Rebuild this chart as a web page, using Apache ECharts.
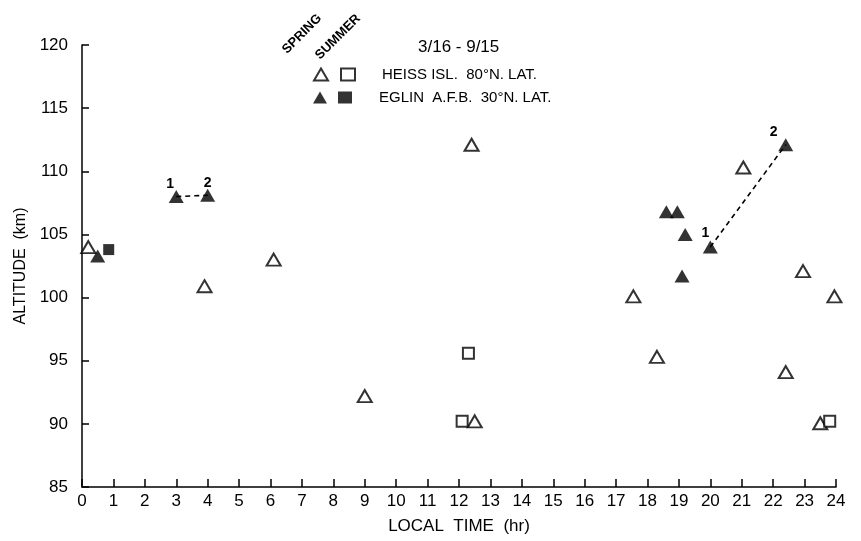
<!DOCTYPE html>
<html><head><meta charset="utf-8">
<script src="https://cdn.jsdelivr.net/npm/echarts@6/dist/echarts.min.js"></script>
<style>html,body{margin:0;padding:0;background:#fff}#c{width:861px;height:541px}</style>
</head><body><div id="c"></div>
<script>
// ---- data ----
const xMin = 0, xMax = 24, xStep = 1;
const yMin = 85, yMax = 120, yStep = 5;
const heissSpring = [[0.2,104.0],[3.9,100.9],[6.1,103.0],[9.0,92.2],[12.4,112.1],[12.5,90.2],[17.55,100.1],[18.3,95.3],[21.05,110.3],[22.4,94.1],[22.95,102.1],[23.5,90.05],[23.95,100.1]];
const heissSummer = [[12.1,90.2],[12.3,95.6],[23.8,90.2]];
const eglinSpring = [[0.5,103.3],[3.0,108.0],[4.0,108.1],[18.6,106.8],[18.95,106.8],[19.2,105.0],[19.1,101.7],[20.0,104.0],[22.4,112.1]];
const eglinSummer = [[0.85,103.8]];
const pairA = [[3.0,108.0],[4.0,108.1]];
const pairB = [[20.0,104.0],[22.4,112.1]];
const pairLabels = ['1','2'];
const legendNames = ['Heiss spring','Heiss summer','Eglin spring','Eglin summer'];
const legendTexts = {'Heiss summer':'HEISS ISL.  80°N. LAT.','Eglin summer':'EGLIN  A.F.B.  30°N. LAT.'};

const FONT = 'Liberation Sans';
const chart = echarts.init(document.getElementById('c'));
function pairSeries(pts, offs){
  return {type:'line', data: pts.map((p,i)=>({value:p, label:{show:true, formatter: pairLabels[i], offset: offs[i]}})),
    symbol:'circle', symbolSize:1, itemStyle:{color:'#000'}, z:1, silent:true,
    lineStyle:{color:'#000', width:1.6, type:[5,4]},
    label:{position:'top', color:'#000', fontSize:14, fontWeight:'bold', fontFamily:FONT}};
}
const openStyle = {color:'#fff', borderColor:'#000', borderWidth:2};
const fillStyle = {color:'#000', borderColor:'#000', borderWidth:0};
const legBase = {orient:'horizontal', itemWidth:14, itemHeight:12, itemGap:11, selectedMode:false,
  textStyle:{color:'#000', fontSize:15, fontFamily:FONT, rich:{t:{padding:[0,0,0,22], fontSize:15, fontFamily:FONT, color:'#000'}}},
  formatter: n => legendTexts[n] ? '{t|'+legendTexts[n]+'}' : ''};
chart.setOption({
  animation:false,
  backgroundColor:'#fff',
  title:{text:'3/16 - 9/15', left:413, top:34, textStyle:{fontSize:17, fontWeight:'normal', color:'#000', fontFamily:FONT}},
  legend:[
    Object.assign({}, legBase, {data:legendNames.slice(0,2), left:308, top:62}),
    Object.assign({}, legBase, {data:legendNames.slice(2,4), left:308, top:85})
  ],
  graphic:[
    {type:'text', x:302, y:34, rotation:Math.PI/4, style:{text:'SPRING', fontSize:13, fontWeight:'bold', fontFamily:FONT, fill:'#000', textAlign:'center', textVerticalAlign:'middle'}},
    {type:'text', x:338, y:37, rotation:Math.PI/4, style:{text:'SUMMER', fontSize:13, fontWeight:'bold', fontFamily:FONT, fill:'#000', textAlign:'center', textVerticalAlign:'middle'}}
  ],
  grid:{left:82, right:25, top:45, bottom:54, containLabel:false},
  xAxis:{type:'value', min:xMin, max:xMax, interval:xStep,
    name:'LOCAL  TIME  (hr)', nameLocation:'middle', nameGap:31,
    nameTextStyle:{fontSize:17, color:'#000', fontFamily:FONT},
    axisLine:{lineStyle:{color:'#000', width:1.5}},
    axisTick:{inside:true, length:8, lineStyle:{color:'#000', width:1.5}},
    axisLabel:{color:'#000', fontSize:17, fontFamily:FONT, margin:6},
    splitLine:{show:false}},
  yAxis:{type:'value', min:yMin, max:yMax, interval:yStep,
    name:'ALTITUDE  (km)', nameLocation:'middle', nameGap:53, nameRotate:90,
    nameTextStyle:{fontSize:16, color:'#000', fontFamily:FONT},
    axisLine:{lineStyle:{color:'#000', width:1.5}},
    axisTick:{inside:true, length:7, lineStyle:{color:'#000', width:1.5}},
    axisLabel:{color:'#000', fontSize:17, fontFamily:FONT, margin:14},
    splitLine:{show:false}},
  series:[
    pairSeries(pairA, [[-6,0],[0,0]]),
    pairSeries(pairB, [[-5,-1],[-12,0]]),
    {name:'Heiss spring', type:'scatter', data:heissSpring, symbol:'triangle', symbolSize:[14,12], itemStyle:openStyle, z:3},
    {name:'Heiss summer', type:'scatter', data:heissSummer, symbol:'rect', symbolSize:11, itemStyle:openStyle, z:3},
    {name:'Eglin spring', type:'scatter', data:eglinSpring, symbol:'triangle', symbolSize:[15,13], itemStyle:fillStyle, z:4},
    {name:'Eglin summer', type:'scatter', data:eglinSummer, symbol:'rect', symbolSize:11, itemStyle:fillStyle, z:4}
  ]
});
</script></body></html>
